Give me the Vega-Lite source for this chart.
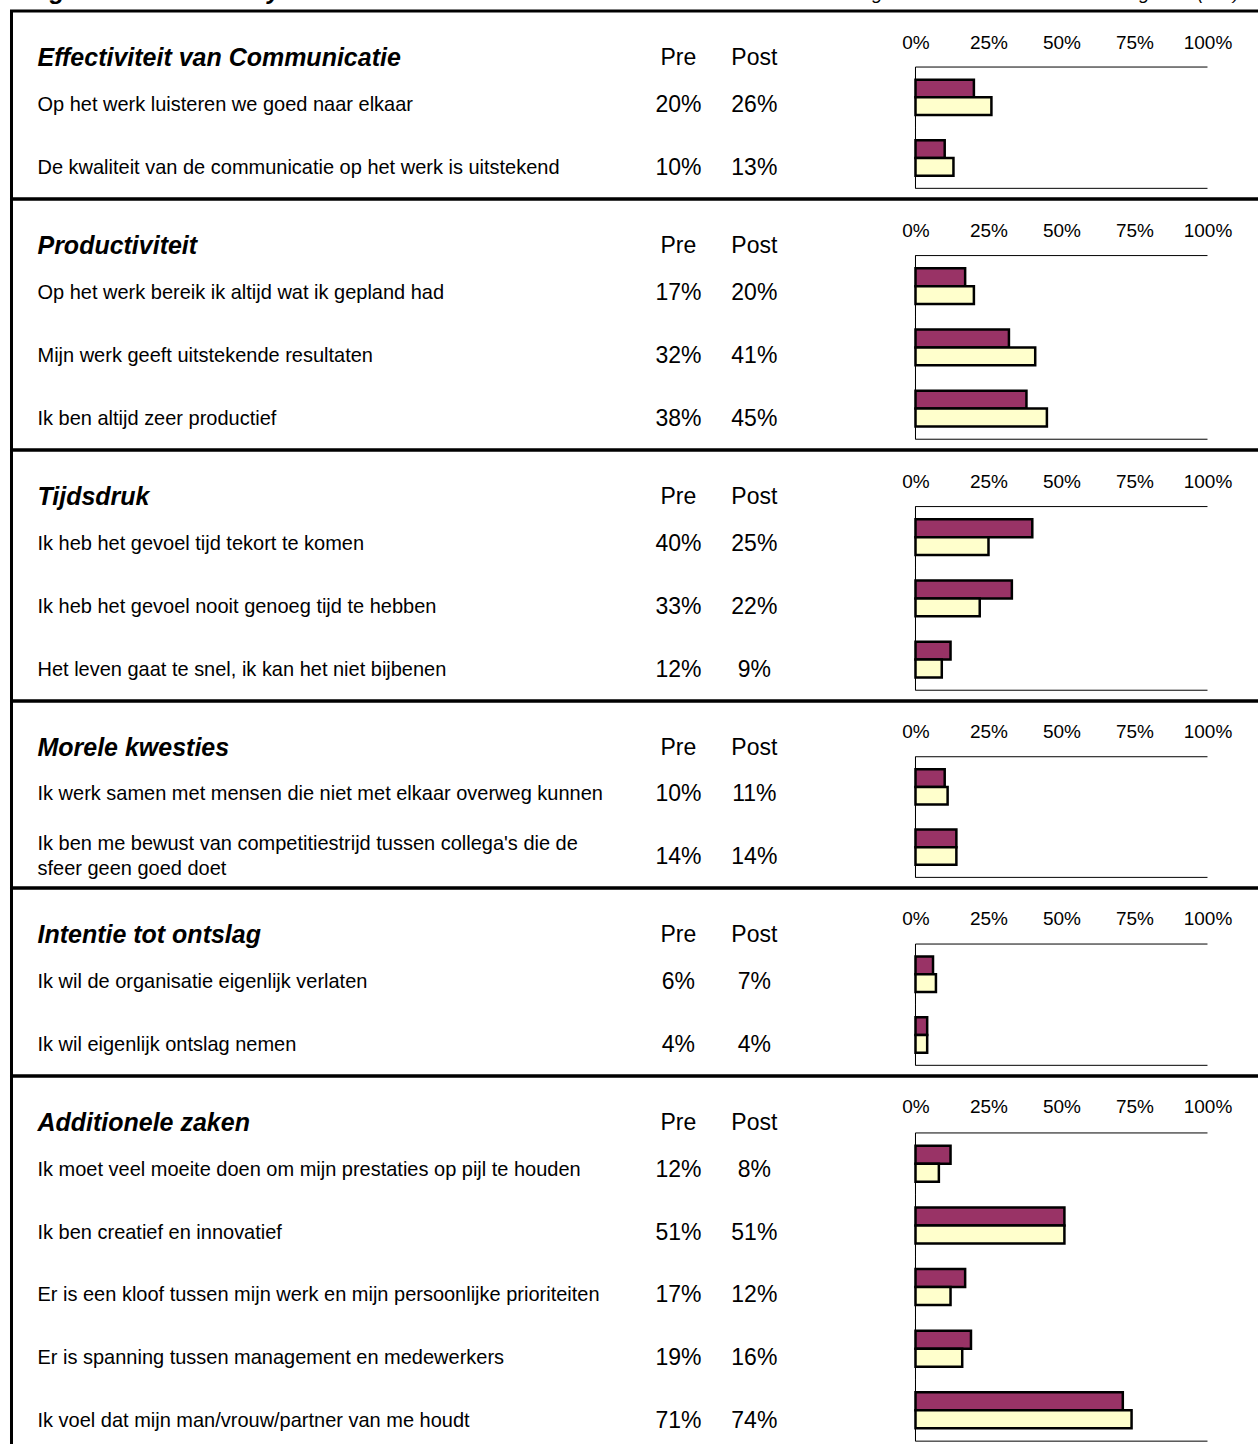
{
  "$schema": "https://vega.github.io/schema/vega-lite/v6.json",
  "background": "white",
  "padding": {"left": 9.5, "top": 0, "right": -16, "bottom": -10},
  "autosize": {"type": "pad"},
  "bounds": "flush",
  "spacing": 0,
  "config": {
    "font": "Liberation Sans",
    "view": {"stroke": "black", "strokeWidth": 3},
    "text": {"font": "Liberation Sans", "color": "black"},
    "axis": {"labelFont": "Liberation Sans", "labelColor": "black"}
  },
  "datasets": {
    "titles": [
      {"left": "Organisatie-efficiency", "right": "Percentage dat het eens is met de stelling vóór (Pre) en na (Post) de training"}
    ],
    "items": [
      {"section": "Effectiviteit van Communicatie", "item": "Op het werk luisteren we goed naar elkaar", "pre": 0.20, "post": 0.26},
      {"section": "Effectiviteit van Communicatie", "item": "De kwaliteit van de communicatie op het werk is uitstekend", "pre": 0.10, "post": 0.13},
      {"section": "Productiviteit", "item": "Op het werk bereik ik altijd wat ik gepland had", "pre": 0.17, "post": 0.20},
      {"section": "Productiviteit", "item": "Mijn werk geeft uitstekende resultaten", "pre": 0.32, "post": 0.41},
      {"section": "Productiviteit", "item": "Ik ben altijd zeer productief", "pre": 0.38, "post": 0.45},
      {"section": "Tijdsdruk", "item": "Ik heb het gevoel tijd tekort te komen", "pre": 0.40, "post": 0.25},
      {"section": "Tijdsdruk", "item": "Ik heb het gevoel nooit genoeg tijd te hebben", "pre": 0.33, "post": 0.22},
      {"section": "Tijdsdruk", "item": "Het leven gaat te snel, ik kan het niet bijbenen", "pre": 0.12, "post": 0.09},
      {"section": "Morele kwesties", "item": "Ik werk samen met mensen die niet met elkaar overweg kunnen", "pre": 0.10, "post": 0.11},
      {"section": "Morele kwesties", "item": "Ik ben me bewust van competitiestrijd tussen collega's die de\nsfeer geen goed doet", "pre": 0.14, "post": 0.14},
      {"section": "Intentie tot ontslag", "item": "Ik wil de organisatie eigenlijk verlaten", "pre": 0.06, "post": 0.07},
      {"section": "Intentie tot ontslag", "item": "Ik wil eigenlijk ontslag nemen", "pre": 0.04, "post": 0.04},
      {"section": "Additionele zaken", "item": "Ik moet veel moeite doen om mijn prestaties op pijl te houden", "pre": 0.12, "post": 0.08},
      {"section": "Additionele zaken", "item": "Ik ben creatief en innovatief", "pre": 0.51, "post": 0.51},
      {"section": "Additionele zaken", "item": "Er is een kloof tussen mijn werk en mijn persoonlijke prioriteiten", "pre": 0.17, "post": 0.12},
      {"section": "Additionele zaken", "item": "Er is spanning tussen management en medewerkers", "pre": 0.19, "post": 0.16},
      {"section": "Additionele zaken", "item": "Ik voel dat mijn man/vrouw/partner van me houdt", "pre": 0.71, "post": 0.74}
    ]
  },
  "resolve": {"scale": {"x": "independent", "y": "independent", "yOffset": "independent"}},
  "vconcat": [
    {
      "width": 1261.4, "height": 10.5,
      "view": {"stroke": null},
      "data": {"name": "titles"},
      "layer": [
        {"mark": {"type": "text", "clip": true, "align": "left", "baseline": "alphabetic", "dy": -6, "fontSize": 25, "fontWeight": "bold", "fontStyle": "italic"},
         "encoding": {"x": {"datum": -3.065, "scale": {"domain": [-3.096, 1.224], "nice": false, "zero": false}, "axis": null}, "text": {"field": "left"}}},
        {"mark": {"type": "text", "clip": true, "align": "left", "baseline": "alphabetic", "dy": -6, "fontSize": 19, "fontStyle": "italic"},
         "encoding": {"x": {"datum": -0.408, "axis": null}, "text": {"field": "right"}}}
      ]
    },
    {
      "width": 1261.4, "height": 188,
      "data": {"name": "items"},
      "transform": [{"filter": "datum.section === 'Effectiviteit van Communicatie'"}],
      "resolve": {"scale": {"y": "independent"}},
      "layer": [
        {"layer": [
          {"transform": [{"aggregate": [{"op": "count", "as": "n"}], "groupby": ["section"]}],
           "mark": {"type": "text", "align": "left", "baseline": "middle", "dy": 16, "fontSize": 25, "fontWeight": "bold", "fontStyle": "italic"},
           "encoding": {"x": {"datum": -3.007}, "y": {"field": "section", "type": "nominal", "sort": null, "scale": {"paddingInner": 0, "paddingOuter": 0}, "axis": null}, "text": {"field": "section"}}},
          {"transform": [{"aggregate": [{"op": "count", "as": "n"}], "groupby": ["section"]}],
           "mark": {"type": "text", "align": "center", "baseline": "middle", "dy": 16, "fontSize": 23},
           "encoding": {"x": {"datum": -0.812}, "y": {"field": "section", "type": "nominal", "sort": null, "axis": null}, "text": {"value": "Pre"}}},
          {"transform": [{"aggregate": [{"op": "count", "as": "n"}], "groupby": ["section"]}],
           "mark": {"type": "text", "align": "center", "baseline": "middle", "dy": 16, "fontSize": 23},
           "encoding": {"x": {"datum": -0.552}, "y": {"field": "section", "type": "nominal", "sort": null, "axis": null}, "text": {"value": "Post"}}},
          {"mark": {"type": "text", "align": "left", "baseline": "middle", "fontSize": 20},
           "encoding": {"x": {"datum": -3.007}, "y": {"field": "item", "type": "nominal", "sort": null, "axis": null}, "text": {"field": "item"}}},
          {"mark": {"type": "text", "align": "center", "baseline": "middle", "fontSize": 23},
           "encoding": {"x": {"datum": -0.812}, "y": {"field": "item", "type": "nominal", "sort": null, "axis": null}, "text": {"field": "pre", "type": "quantitative", "format": ".0%"}}},
          {"mark": {"type": "text", "align": "center", "baseline": "middle", "fontSize": 23},
           "encoding": {"x": {"datum": -0.552}, "y": {"field": "item", "type": "nominal", "sort": null, "axis": null}, "text": {"field": "post", "type": "quantitative", "format": ".0%"}}}
        ]},
        {"layer": [
          {"transform": [{"fold": ["pre", "post"], "as": ["series", "value"]}],
           "mark": {"type": "bar", "stroke": "black", "strokeWidth": 2.5},
           "encoding": {
             "x": {"field": "value", "type": "quantitative", "scale": {"domain": [-3.096, 1.224], "nice": false, "zero": false},
                   "axis": {"orient": "top", "values": [0, 0.25, 0.5, 0.75, 1], "format": ".0%", "domain": false, "ticks": false, "grid": false, "labelPadding": 16, "offset": -57, "title": null, "labelFontSize": 19}},
             "x2": {"datum": 0},
             "y": {"field": "item", "type": "nominal", "sort": null, "scale": {"paddingInner": 0, "paddingOuter": 0.55, "align": 0.84}, "axis": null},
             "yOffset": {"field": "series", "type": "nominal", "scale": {"domain": ["pre", "post"], "paddingInner": 0, "paddingOuter": 0.71}},
             "color": {"field": "series", "type": "nominal", "scale": {"domain": ["pre", "post"], "range": ["#993366", "#FFFFCC"]}, "legend": null}
           }},
          {"mark": {"type": "rect", "stroke": "black", "fill": "black", "strokeWidth": 1},
           "encoding": {"x": {"datum": 0}, "x2": {"datum": 0}, "y": {"field": "item", "type": "nominal", "sort": null, "axis": null}}},
          {"transform": [{"window": [{"op": "row_number", "as": "rank"}]}, {"filter": "datum.rank === 1"}],
           "mark": {"type": "rule", "color": "black", "strokeWidth": 1},
           "encoding": {"x": {"datum": 0}, "x2": {"datum": 1}, "y": {"field": "item", "type": "nominal", "sort": null, "bandPosition": 0, "axis": null}}},
          {"transform": [{"window": [{"op": "row_number", "as": "rank"}]}, {"joinaggregate": [{"op": "count", "as": "total"}]}, {"filter": "datum.rank === datum.total"}],
           "mark": {"type": "rule", "color": "black", "strokeWidth": 1},
           "encoding": {"x": {"datum": 0}, "x2": {"datum": 1}, "y": {"field": "item", "type": "nominal", "sort": null, "bandPosition": 1, "axis": null}}}
        ]}
      ]
    },
    {
      "width": 1261.4, "height": 251,
      "data": {"name": "items"},
      "transform": [{"filter": "datum.section === 'Productiviteit'"}],
      "resolve": {"scale": {"y": "independent"}},
      "layer": [
        {"layer": [
          {"transform": [{"aggregate": [{"op": "count", "as": "n"}], "groupby": ["section"]}],
           "mark": {"type": "text", "align": "left", "baseline": "middle", "dy": 16, "fontSize": 25, "fontWeight": "bold", "fontStyle": "italic"},
           "encoding": {"x": {"datum": -3.007}, "y": {"field": "section", "type": "nominal", "sort": null, "scale": {"paddingInner": 0, "paddingOuter": 0}, "axis": null}, "text": {"field": "section"}}},
          {"transform": [{"aggregate": [{"op": "count", "as": "n"}], "groupby": ["section"]}],
           "mark": {"type": "text", "align": "center", "baseline": "middle", "dy": 16, "fontSize": 23},
           "encoding": {"x": {"datum": -0.812}, "y": {"field": "section", "type": "nominal", "sort": null, "axis": null}, "text": {"value": "Pre"}}},
          {"transform": [{"aggregate": [{"op": "count", "as": "n"}], "groupby": ["section"]}],
           "mark": {"type": "text", "align": "center", "baseline": "middle", "dy": 16, "fontSize": 23},
           "encoding": {"x": {"datum": -0.552}, "y": {"field": "section", "type": "nominal", "sort": null, "axis": null}, "text": {"value": "Post"}}},
          {"mark": {"type": "text", "align": "left", "baseline": "middle", "fontSize": 20},
           "encoding": {"x": {"datum": -3.007}, "y": {"field": "item", "type": "nominal", "sort": null, "axis": null}, "text": {"field": "item"}}},
          {"mark": {"type": "text", "align": "center", "baseline": "middle", "fontSize": 23},
           "encoding": {"x": {"datum": -0.812}, "y": {"field": "item", "type": "nominal", "sort": null, "axis": null}, "text": {"field": "pre", "type": "quantitative", "format": ".0%"}}},
          {"mark": {"type": "text", "align": "center", "baseline": "middle", "fontSize": 23},
           "encoding": {"x": {"datum": -0.552}, "y": {"field": "item", "type": "nominal", "sort": null, "axis": null}, "text": {"field": "post", "type": "quantitative", "format": ".0%"}}}
        ]},
        {"layer": [
          {"transform": [{"fold": ["pre", "post"], "as": ["series", "value"]}],
           "mark": {"type": "bar", "stroke": "black", "strokeWidth": 2.5},
           "encoding": {
             "x": {"field": "value", "type": "quantitative", "scale": {"domain": [-3.096, 1.224], "nice": false, "zero": false},
                   "axis": {"orient": "top", "values": [0, 0.25, 0.5, 0.75, 1], "format": ".0%", "domain": false, "ticks": false, "grid": false, "labelPadding": 16, "offset": -57, "title": null, "labelFontSize": 19}},
             "x2": {"datum": 0},
             "y": {"field": "item", "type": "nominal", "sort": null, "scale": {"paddingInner": 0, "paddingOuter": 0.55, "align": 0.84}, "axis": null},
             "yOffset": {"field": "series", "type": "nominal", "scale": {"domain": ["pre", "post"], "paddingInner": 0, "paddingOuter": 0.71}},
             "color": {"field": "series", "type": "nominal", "scale": {"domain": ["pre", "post"], "range": ["#993366", "#FFFFCC"]}, "legend": null}
           }},
          {"mark": {"type": "rect", "stroke": "black", "fill": "black", "strokeWidth": 1},
           "encoding": {"x": {"datum": 0}, "x2": {"datum": 0}, "y": {"field": "item", "type": "nominal", "sort": null, "axis": null}}},
          {"transform": [{"window": [{"op": "row_number", "as": "rank"}]}, {"filter": "datum.rank === 1"}],
           "mark": {"type": "rule", "color": "black", "strokeWidth": 1},
           "encoding": {"x": {"datum": 0}, "x2": {"datum": 1}, "y": {"field": "item", "type": "nominal", "sort": null, "bandPosition": 0, "axis": null}}},
          {"transform": [{"window": [{"op": "row_number", "as": "rank"}]}, {"joinaggregate": [{"op": "count", "as": "total"}]}, {"filter": "datum.rank === datum.total"}],
           "mark": {"type": "rule", "color": "black", "strokeWidth": 1},
           "encoding": {"x": {"datum": 0}, "x2": {"datum": 1}, "y": {"field": "item", "type": "nominal", "sort": null, "bandPosition": 1, "axis": null}}}
        ]}
      ]
    },
    {
      "width": 1261.4, "height": 251,
      "data": {"name": "items"},
      "transform": [{"filter": "datum.section === 'Tijdsdruk'"}],
      "resolve": {"scale": {"y": "independent"}},
      "layer": [
        {"layer": [
          {"transform": [{"aggregate": [{"op": "count", "as": "n"}], "groupby": ["section"]}],
           "mark": {"type": "text", "align": "left", "baseline": "middle", "dy": 16, "fontSize": 25, "fontWeight": "bold", "fontStyle": "italic"},
           "encoding": {"x": {"datum": -3.007}, "y": {"field": "section", "type": "nominal", "sort": null, "scale": {"paddingInner": 0, "paddingOuter": 0}, "axis": null}, "text": {"field": "section"}}},
          {"transform": [{"aggregate": [{"op": "count", "as": "n"}], "groupby": ["section"]}],
           "mark": {"type": "text", "align": "center", "baseline": "middle", "dy": 16, "fontSize": 23},
           "encoding": {"x": {"datum": -0.812}, "y": {"field": "section", "type": "nominal", "sort": null, "axis": null}, "text": {"value": "Pre"}}},
          {"transform": [{"aggregate": [{"op": "count", "as": "n"}], "groupby": ["section"]}],
           "mark": {"type": "text", "align": "center", "baseline": "middle", "dy": 16, "fontSize": 23},
           "encoding": {"x": {"datum": -0.552}, "y": {"field": "section", "type": "nominal", "sort": null, "axis": null}, "text": {"value": "Post"}}},
          {"mark": {"type": "text", "align": "left", "baseline": "middle", "fontSize": 20},
           "encoding": {"x": {"datum": -3.007}, "y": {"field": "item", "type": "nominal", "sort": null, "axis": null}, "text": {"field": "item"}}},
          {"mark": {"type": "text", "align": "center", "baseline": "middle", "fontSize": 23},
           "encoding": {"x": {"datum": -0.812}, "y": {"field": "item", "type": "nominal", "sort": null, "axis": null}, "text": {"field": "pre", "type": "quantitative", "format": ".0%"}}},
          {"mark": {"type": "text", "align": "center", "baseline": "middle", "fontSize": 23},
           "encoding": {"x": {"datum": -0.552}, "y": {"field": "item", "type": "nominal", "sort": null, "axis": null}, "text": {"field": "post", "type": "quantitative", "format": ".0%"}}}
        ]},
        {"layer": [
          {"transform": [{"fold": ["pre", "post"], "as": ["series", "value"]}],
           "mark": {"type": "bar", "stroke": "black", "strokeWidth": 2.5},
           "encoding": {
             "x": {"field": "value", "type": "quantitative", "scale": {"domain": [-3.096, 1.224], "nice": false, "zero": false},
                   "axis": {"orient": "top", "values": [0, 0.25, 0.5, 0.75, 1], "format": ".0%", "domain": false, "ticks": false, "grid": false, "labelPadding": 16, "offset": -57, "title": null, "labelFontSize": 19}},
             "x2": {"datum": 0},
             "y": {"field": "item", "type": "nominal", "sort": null, "scale": {"paddingInner": 0, "paddingOuter": 0.55, "align": 0.84}, "axis": null},
             "yOffset": {"field": "series", "type": "nominal", "scale": {"domain": ["pre", "post"], "paddingInner": 0, "paddingOuter": 0.71}},
             "color": {"field": "series", "type": "nominal", "scale": {"domain": ["pre", "post"], "range": ["#993366", "#FFFFCC"]}, "legend": null}
           }},
          {"mark": {"type": "rect", "stroke": "black", "fill": "black", "strokeWidth": 1},
           "encoding": {"x": {"datum": 0}, "x2": {"datum": 0}, "y": {"field": "item", "type": "nominal", "sort": null, "axis": null}}},
          {"transform": [{"window": [{"op": "row_number", "as": "rank"}]}, {"filter": "datum.rank === 1"}],
           "mark": {"type": "rule", "color": "black", "strokeWidth": 1},
           "encoding": {"x": {"datum": 0}, "x2": {"datum": 1}, "y": {"field": "item", "type": "nominal", "sort": null, "bandPosition": 0, "axis": null}}},
          {"transform": [{"window": [{"op": "row_number", "as": "rank"}]}, {"joinaggregate": [{"op": "count", "as": "total"}]}, {"filter": "datum.rank === datum.total"}],
           "mark": {"type": "rule", "color": "black", "strokeWidth": 1},
           "encoding": {"x": {"datum": 0}, "x2": {"datum": 1}, "y": {"field": "item", "type": "nominal", "sort": null, "bandPosition": 1, "axis": null}}}
        ]}
      ]
    },
    {
      "width": 1261.4, "height": 187,
      "data": {"name": "items"},
      "transform": [{"filter": "datum.section === 'Morele kwesties'"}],
      "resolve": {"scale": {"y": "independent"}},
      "layer": [
        {"layer": [
          {"transform": [{"aggregate": [{"op": "count", "as": "n"}], "groupby": ["section"]}],
           "mark": {"type": "text", "align": "left", "baseline": "middle", "dy": 16, "fontSize": 25, "fontWeight": "bold", "fontStyle": "italic"},
           "encoding": {"x": {"datum": -3.007}, "y": {"field": "section", "type": "nominal", "sort": null, "scale": {"paddingInner": 0, "paddingOuter": 0}, "axis": null}, "text": {"field": "section"}}},
          {"transform": [{"aggregate": [{"op": "count", "as": "n"}], "groupby": ["section"]}],
           "mark": {"type": "text", "align": "center", "baseline": "middle", "dy": 16, "fontSize": 23},
           "encoding": {"x": {"datum": -0.812}, "y": {"field": "section", "type": "nominal", "sort": null, "axis": null}, "text": {"value": "Pre"}}},
          {"transform": [{"aggregate": [{"op": "count", "as": "n"}], "groupby": ["section"]}],
           "mark": {"type": "text", "align": "center", "baseline": "middle", "dy": 16, "fontSize": 23},
           "encoding": {"x": {"datum": -0.552}, "y": {"field": "section", "type": "nominal", "sort": null, "axis": null}, "text": {"value": "Post"}}},
          {"transform": [{"filter": "indexof(datum.item, '\\n') < 0"}],
           "mark": {"type": "text", "align": "left", "baseline": "middle", "fontSize": 20},
           "encoding": {"x": {"datum": -3.007}, "y": {"field": "item", "type": "nominal", "sort": null, "axis": null}, "text": {"field": "item"}}},
          {"transform": [{"filter": "indexof(datum.item, '\\n') >= 0"}],
           "mark": {"type": "text", "align": "left", "baseline": "middle", "fontSize": 20, "lineBreak": "\n", "lineHeight": 25, "dy": -12.5},
           "encoding": {"x": {"datum": -3.007}, "y": {"field": "item", "type": "nominal", "sort": null, "axis": null}, "text": {"field": "item"}}},
          {"mark": {"type": "text", "align": "center", "baseline": "middle", "fontSize": 23},
           "encoding": {"x": {"datum": -0.812}, "y": {"field": "item", "type": "nominal", "sort": null, "axis": null}, "text": {"field": "pre", "type": "quantitative", "format": ".0%"}}},
          {"mark": {"type": "text", "align": "center", "baseline": "middle", "fontSize": 23},
           "encoding": {"x": {"datum": -0.552}, "y": {"field": "item", "type": "nominal", "sort": null, "axis": null}, "text": {"field": "post", "type": "quantitative", "format": ".0%"}}}
        ]},
        {"layer": [
          {"transform": [{"fold": ["pre", "post"], "as": ["series", "value"]}],
           "mark": {"type": "bar", "stroke": "black", "strokeWidth": 2.5},
           "encoding": {
             "x": {"field": "value", "type": "quantitative", "scale": {"domain": [-3.096, 1.224], "nice": false, "zero": false},
                   "axis": {"orient": "top", "values": [0, 0.25, 0.5, 0.75, 1], "format": ".0%", "domain": false, "ticks": false, "grid": false, "labelPadding": 16, "offset": -57, "title": null, "labelFontSize": 19}},
             "x2": {"datum": 0},
             "y": {"field": "item", "type": "nominal", "sort": null, "scale": {"paddingInner": 0, "paddingOuter": 0.55, "align": 0.84}, "axis": null},
             "yOffset": {"field": "series", "type": "nominal", "scale": {"domain": ["pre", "post"], "paddingInner": 0, "paddingOuter": 0.71}},
             "color": {"field": "series", "type": "nominal", "scale": {"domain": ["pre", "post"], "range": ["#993366", "#FFFFCC"]}, "legend": null}
           }},
          {"mark": {"type": "rect", "stroke": "black", "fill": "black", "strokeWidth": 1},
           "encoding": {"x": {"datum": 0}, "x2": {"datum": 0}, "y": {"field": "item", "type": "nominal", "sort": null, "axis": null}}},
          {"transform": [{"window": [{"op": "row_number", "as": "rank"}]}, {"filter": "datum.rank === 1"}],
           "mark": {"type": "rule", "color": "black", "strokeWidth": 1},
           "encoding": {"x": {"datum": 0}, "x2": {"datum": 1}, "y": {"field": "item", "type": "nominal", "sort": null, "bandPosition": 0, "axis": null}}},
          {"transform": [{"window": [{"op": "row_number", "as": "rank"}]}, {"joinaggregate": [{"op": "count", "as": "total"}]}, {"filter": "datum.rank === datum.total"}],
           "mark": {"type": "rule", "color": "black", "strokeWidth": 1},
           "encoding": {"x": {"datum": 0}, "x2": {"datum": 1}, "y": {"field": "item", "type": "nominal", "sort": null, "bandPosition": 1, "axis": null}}}
        ]}
      ]
    },
    {
      "width": 1261.4, "height": 188,
      "data": {"name": "items"},
      "transform": [{"filter": "datum.section === 'Intentie tot ontslag'"}],
      "resolve": {"scale": {"y": "independent"}},
      "layer": [
        {"layer": [
          {"transform": [{"aggregate": [{"op": "count", "as": "n"}], "groupby": ["section"]}],
           "mark": {"type": "text", "align": "left", "baseline": "middle", "dy": 16, "fontSize": 25, "fontWeight": "bold", "fontStyle": "italic"},
           "encoding": {"x": {"datum": -3.007}, "y": {"field": "section", "type": "nominal", "sort": null, "scale": {"paddingInner": 0, "paddingOuter": 0}, "axis": null}, "text": {"field": "section"}}},
          {"transform": [{"aggregate": [{"op": "count", "as": "n"}], "groupby": ["section"]}],
           "mark": {"type": "text", "align": "center", "baseline": "middle", "dy": 16, "fontSize": 23},
           "encoding": {"x": {"datum": -0.812}, "y": {"field": "section", "type": "nominal", "sort": null, "axis": null}, "text": {"value": "Pre"}}},
          {"transform": [{"aggregate": [{"op": "count", "as": "n"}], "groupby": ["section"]}],
           "mark": {"type": "text", "align": "center", "baseline": "middle", "dy": 16, "fontSize": 23},
           "encoding": {"x": {"datum": -0.552}, "y": {"field": "section", "type": "nominal", "sort": null, "axis": null}, "text": {"value": "Post"}}},
          {"mark": {"type": "text", "align": "left", "baseline": "middle", "fontSize": 20},
           "encoding": {"x": {"datum": -3.007}, "y": {"field": "item", "type": "nominal", "sort": null, "axis": null}, "text": {"field": "item"}}},
          {"mark": {"type": "text", "align": "center", "baseline": "middle", "fontSize": 23},
           "encoding": {"x": {"datum": -0.812}, "y": {"field": "item", "type": "nominal", "sort": null, "axis": null}, "text": {"field": "pre", "type": "quantitative", "format": ".0%"}}},
          {"mark": {"type": "text", "align": "center", "baseline": "middle", "fontSize": 23},
           "encoding": {"x": {"datum": -0.552}, "y": {"field": "item", "type": "nominal", "sort": null, "axis": null}, "text": {"field": "post", "type": "quantitative", "format": ".0%"}}}
        ]},
        {"layer": [
          {"transform": [{"fold": ["pre", "post"], "as": ["series", "value"]}],
           "mark": {"type": "bar", "stroke": "black", "strokeWidth": 2.5},
           "encoding": {
             "x": {"field": "value", "type": "quantitative", "scale": {"domain": [-3.096, 1.224], "nice": false, "zero": false},
                   "axis": {"orient": "top", "values": [0, 0.25, 0.5, 0.75, 1], "format": ".0%", "domain": false, "ticks": false, "grid": false, "labelPadding": 16, "offset": -57, "title": null, "labelFontSize": 19}},
             "x2": {"datum": 0},
             "y": {"field": "item", "type": "nominal", "sort": null, "scale": {"paddingInner": 0, "paddingOuter": 0.55, "align": 0.84}, "axis": null},
             "yOffset": {"field": "series", "type": "nominal", "scale": {"domain": ["pre", "post"], "paddingInner": 0, "paddingOuter": 0.71}},
             "color": {"field": "series", "type": "nominal", "scale": {"domain": ["pre", "post"], "range": ["#993366", "#FFFFCC"]}, "legend": null}
           }},
          {"mark": {"type": "rect", "stroke": "black", "fill": "black", "strokeWidth": 1},
           "encoding": {"x": {"datum": 0}, "x2": {"datum": 0}, "y": {"field": "item", "type": "nominal", "sort": null, "axis": null}}},
          {"transform": [{"window": [{"op": "row_number", "as": "rank"}]}, {"filter": "datum.rank === 1"}],
           "mark": {"type": "rule", "color": "black", "strokeWidth": 1},
           "encoding": {"x": {"datum": 0}, "x2": {"datum": 1}, "y": {"field": "item", "type": "nominal", "sort": null, "bandPosition": 0, "axis": null}}},
          {"transform": [{"window": [{"op": "row_number", "as": "rank"}]}, {"joinaggregate": [{"op": "count", "as": "total"}]}, {"filter": "datum.rank === datum.total"}],
           "mark": {"type": "rule", "color": "black", "strokeWidth": 1},
           "encoding": {"x": {"datum": 0}, "x2": {"datum": 1}, "y": {"field": "item", "type": "nominal", "sort": null, "bandPosition": 1, "axis": null}}}
        ]}
      ]
    },
    {
      "width": 1261.4, "height": 376,
      "data": {"name": "items"},
      "transform": [{"filter": "datum.section === 'Additionele zaken'"}],
      "resolve": {"scale": {"y": "independent"}},
      "layer": [
        {"layer": [
          {"transform": [{"aggregate": [{"op": "count", "as": "n"}], "groupby": ["section"]}],
           "mark": {"type": "text", "align": "left", "baseline": "middle", "dy": 16, "fontSize": 25, "fontWeight": "bold", "fontStyle": "italic"},
           "encoding": {"x": {"datum": -3.007}, "y": {"field": "section", "type": "nominal", "sort": null, "scale": {"paddingInner": 0, "paddingOuter": 0}, "axis": null}, "text": {"field": "section"}}},
          {"transform": [{"aggregate": [{"op": "count", "as": "n"}], "groupby": ["section"]}],
           "mark": {"type": "text", "align": "center", "baseline": "middle", "dy": 16, "fontSize": 23},
           "encoding": {"x": {"datum": -0.812}, "y": {"field": "section", "type": "nominal", "sort": null, "axis": null}, "text": {"value": "Pre"}}},
          {"transform": [{"aggregate": [{"op": "count", "as": "n"}], "groupby": ["section"]}],
           "mark": {"type": "text", "align": "center", "baseline": "middle", "dy": 16, "fontSize": 23},
           "encoding": {"x": {"datum": -0.552}, "y": {"field": "section", "type": "nominal", "sort": null, "axis": null}, "text": {"value": "Post"}}},
          {"mark": {"type": "text", "align": "left", "baseline": "middle", "fontSize": 20},
           "encoding": {"x": {"datum": -3.007}, "y": {"field": "item", "type": "nominal", "sort": null, "axis": null}, "text": {"field": "item"}}},
          {"mark": {"type": "text", "align": "center", "baseline": "middle", "fontSize": 23},
           "encoding": {"x": {"datum": -0.812}, "y": {"field": "item", "type": "nominal", "sort": null, "axis": null}, "text": {"field": "pre", "type": "quantitative", "format": ".0%"}}},
          {"mark": {"type": "text", "align": "center", "baseline": "middle", "fontSize": 23},
           "encoding": {"x": {"datum": -0.552}, "y": {"field": "item", "type": "nominal", "sort": null, "axis": null}, "text": {"field": "post", "type": "quantitative", "format": ".0%"}}}
        ]},
        {"layer": [
          {"transform": [{"fold": ["pre", "post"], "as": ["series", "value"]}],
           "mark": {"type": "bar", "stroke": "black", "strokeWidth": 2.5},
           "encoding": {
             "x": {"field": "value", "type": "quantitative", "scale": {"domain": [-3.096, 1.224], "nice": false, "zero": false},
                   "axis": {"orient": "top", "values": [0, 0.25, 0.5, 0.75, 1], "format": ".0%", "domain": false, "ticks": false, "grid": false, "labelPadding": 16, "offset": -57, "title": null, "labelFontSize": 19}},
             "x2": {"datum": 0},
             "y": {"field": "item", "type": "nominal", "sort": null, "scale": {"paddingInner": 0, "paddingOuter": 0.55, "align": 0.84}, "axis": null},
             "yOffset": {"field": "series", "type": "nominal", "scale": {"domain": ["pre", "post"], "paddingInner": 0, "paddingOuter": 0.71}},
             "color": {"field": "series", "type": "nominal", "scale": {"domain": ["pre", "post"], "range": ["#993366", "#FFFFCC"]}, "legend": null}
           }},
          {"mark": {"type": "rect", "stroke": "black", "fill": "black", "strokeWidth": 1},
           "encoding": {"x": {"datum": 0}, "x2": {"datum": 0}, "y": {"field": "item", "type": "nominal", "sort": null, "axis": null}}},
          {"transform": [{"window": [{"op": "row_number", "as": "rank"}]}, {"filter": "datum.rank === 1"}],
           "mark": {"type": "rule", "color": "black", "strokeWidth": 1},
           "encoding": {"x": {"datum": 0}, "x2": {"datum": 1}, "y": {"field": "item", "type": "nominal", "sort": null, "bandPosition": 0, "axis": null}}},
          {"transform": [{"window": [{"op": "row_number", "as": "rank"}]}, {"joinaggregate": [{"op": "count", "as": "total"}]}, {"filter": "datum.rank === datum.total"}],
           "mark": {"type": "rule", "color": "black", "strokeWidth": 1},
           "encoding": {"x": {"datum": 0}, "x2": {"datum": 1}, "y": {"field": "item", "type": "nominal", "sort": null, "bandPosition": 1, "axis": null}}}
        ]}
      ]
    }
  ]
}
